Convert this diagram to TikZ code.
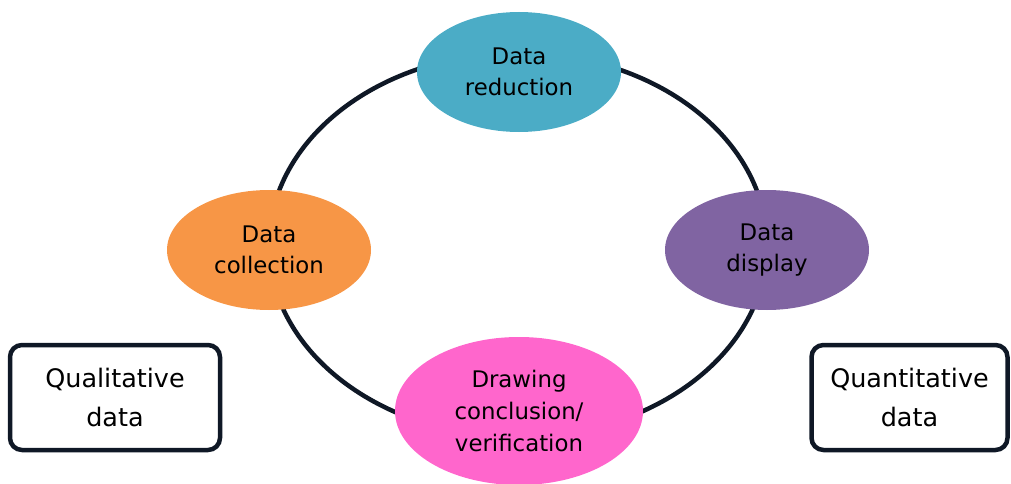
\documentclass[tikz,border=0pt]{standalone}
\usepackage{fontspec}
\setmainfont{DejaVu Sans}
\usetikzlibrary{shapes.geometric}
\definecolor{RED}{HTML}{4BACC6}
\definecolor{COL}{HTML}{F79646}
\definecolor{DIS}{HTML}{8064A2}
\definecolor{CON}{HTML}{FF66CC}
\definecolor{INK}{HTML}{0F1826}
\begin{document}
\begin{tikzpicture}[
  stage/.style={ellipse, draw=none, inner sep=0pt, minimum width=4.08cm, minimum height=2.4cm, align=center, font=\fontsize{13}{18}\selectfont},
  databox/.style={draw=INK, line width=0.09cm, rounded corners=0.24cm, minimum height=2.10cm, align=center, font=\fontsize{14.5}{22}\selectfont}]%
\useasboundingbox (0,0) rectangle (20.22,9.66);%
\coordinate (ringc) at (10.36,4.76);%
\draw[INK, line width=0.09cm] (ringc) ellipse [x radius=4.98cm, y radius=3.84cm];%
\node[stage, fill=RED] (reduction) at (10.38,8.22) {Data\\reduction};%
\node[stage, fill=COL] (collection) at (5.38,4.66) {Data\\collection};%
\node[stage, fill=DIS] (display) at (15.34,4.66) {Data\\display};%
\node[stage, fill=CON, minimum width=4.96cm, minimum height=2.96cm] (conclusion) at (10.38,1.44) {Drawing\\conclusion/\\verification};%
\node[databox, minimum width=4.20cm] (qual) at (2.30,1.71) {Qualitative\\data};%
\node[databox, minimum width=3.92cm] (quant) at (18.19,1.71) {Quantitative\\data};%
\end{tikzpicture}
\end{document}
